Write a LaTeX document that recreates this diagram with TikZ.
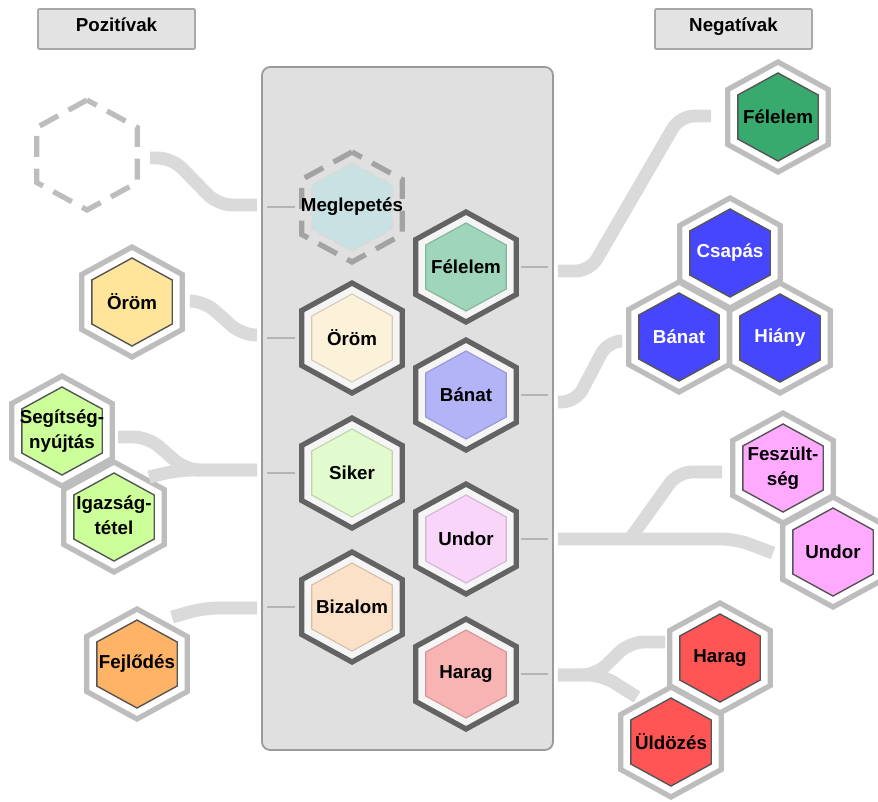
\documentclass[tikz,border=0pt]{standalone}
\usepackage{fontspec}
\setmainfont{Liberation Sans}
\usetikzlibrary{shapes.geometric,calc}

\definecolor{boxgray}{HTML}{E3E3E3}
\definecolor{boxline}{HTML}{A8A8A8}
\definecolor{panelgray}{HTML}{E0E0E0}
\definecolor{panelline}{HTML}{9A9A9A}
\definecolor{linkgray}{HTML}{DADADA}
\definecolor{stubgray}{HTML}{B4B4B4}
\definecolor{ringdark}{HTML}{636363}
\definecolor{ringlight}{HTML}{BDBDBD}
\definecolor{ringdash}{HTML}{A3A3A3}
\definecolor{coreline}{HTML}{555555}
% inside the panel
\definecolor{megC}{HTML}{C8E1E3}
\definecolor{felC}{HTML}{9FD5BB}
\definecolor{oromC}{HTML}{FCF1D9}
\definecolor{banC}{HTML}{B3B3F7}
\definecolor{sikC}{HTML}{E2FBCE}
\definecolor{undC}{HTML}{F9D5F9}
\definecolor{bizC}{HTML}{FBE1C8}
\definecolor{harC}{HTML}{F8B3B3}
% outside
\definecolor{felO}{HTML}{38AA6E}
\definecolor{blueO}{HTML}{4646FF}
\definecolor{pinkO}{HTML}{FFAAFF}
\definecolor{redO}{HTML}{FF5555}
\definecolor{oromO}{HTML}{FFE599}
\definecolor{greenO}{HTML}{CCFF99}
\definecolor{fejlO}{HTML}{FFB366}

% hexagons are stretched a little in x, the text is not
\newcommand{\hl}[1]{\makebox[0pt]{\scalebox{0.948}[1]{#1}}}
\newcommand{\hll}[2]{\makebox[0pt]{\scalebox{0.948}[1]{\begin{tabular}{@{}c@{}}#1\\#2\end{tabular}}}}

\tikzset{
  hexa/.style={regular polygon, regular polygon sides=6, shape border rotate=30,
    inner sep=0pt, outer sep=0pt, transform shape, xscale=1.055},
  ring/.style={hexa, minimum size=3.3cm, line width=4.5pt},
  pring/.style={ring, draw=ringdark, fill=white!96!black},
  oring/.style={ring, draw=ringlight, fill=white},
  core/.style={hexa, minimum size=2.64cm, font=\bfseries\fontsize{16}{21}\selectfont},
  pcore/.style={core, fill=#1, draw=#1!85!black, line width=1pt},
  ocore/.style={core, fill=#1, draw=coreline, line width=1.2pt},
  dashring/.style={ring, dash pattern=on 18pt off 10pt},
  headbox/.style={draw=boxline, fill=boxgray, line width=1.5pt, rounded corners=1pt,
    minimum width=4.71cm, minimum height=1.2cm, text height=12pt, text depth=8pt,
    font=\bfseries\fontsize{16}{19}\selectfont},
  panelbox/.style={draw=panelline, fill=panelgray, line width=1.5pt, rounded corners=7pt,
    minimum width=8.73cm, minimum height=20.49cm},
  link/.style={draw=linkgray, line width=11pt, rounded corners=12pt},
  stub/.style={draw=stubgray, line width=2.5pt}
}

\begin{document}
\begin{tikzpicture}[x=0.03cm, y=-0.03cm]
\useasboundingbox (0,0) rectangle (878,801);

% headers
\node[headbox] (hPoz) at (116.5,29) {Pozitívak};
\node[headbox] (hNeg) at (733.5,29) {Negatívak};

% panel
\node[panelbox] (panel) at (407.5,408.5) {};

% hexagons in the panel
\node[dashring, draw=ringdash] (pMeg) at (352,207) {};
\node[core, fill=megC, draw=black!15, line width=1.5pt, dash pattern=on 9pt off 5pt] (pMegIn) at (pMeg) {\hl{Meglepetés}};
\node[pring] (pFel) at (466,267) {};
\node[pcore=felC] (pFelIn) at (pFel) {\hl{Félelem}};
\node[pring] (pOrom) at (352,338) {};
\node[pcore=oromC] (pOromIn) at (pOrom) {\hl{Öröm}};
\node[pring] (pBan) at (466,395) {};
\node[pcore=banC] (pBanIn) at (pBan) {\hl{Bánat}};
\node[pring] (pSik) at (352,473) {};
\node[pcore=sikC] (pSikIn) at (pSik) {\hl{Siker}};
\node[pring] (pUnd) at (466,539) {};
\node[pcore=undC] (pUndIn) at (pUnd) {\hl{Undor}};
\node[pring] (pBiz) at (352,607) {};
\node[pcore=bizC] (pBizIn) at (pBiz) {\hl{Bizalom}};
\node[pring] (pHar) at (466,674) {};
\node[pcore=harC] (pHarIn) at (pHar) {\hl{Harag}};

\foreach \n in {pMeg,pOrom,pSik,pBiz}
  \draw[stub] ($(panel.west|-\n)+(6,0)$) -- ($(\n)+(-57,0)$);
\foreach \n in {pFel,pBan,pUnd,pHar}
  \draw[stub] ($(\n)+(55,0)$) -- ($(panel.east|-\n)+(-6,0)$);

% left side
\node[dashring, draw=ringlight] (oDash) at (87,155) {};
\node[oring] (oOrom) at (132,302) {};
\node[ocore=oromO] (oOromIn) at (oOrom) {\hl{Öröm}};
\node[oring] (oSeg) at (62,431) {};
\node[ocore=greenO] (oSegIn) at (oSeg) {\hll{Segítség-}{nyújtás}};
\node[oring] (oIgaz) at (114,517) {};
\node[ocore=greenO] (oIgazIn) at (oIgaz) {\hll{Igazság-}{tétel}};
\node[oring] (oFejl) at (137,664) {};
\node[ocore=fejlO] (oFejlIn) at (oFejl) {\hl{Fejlődés}};

% right side
\node[oring] (oFel) at (778,117) {};
\node[ocore=felO] (oFelIn) at (oFel) {\hl{Félelem}};
\node[oring] (oCsa) at (730,253) {};
\node[ocore=blueO, text=white] (oCsaIn) at (oCsa) {\hl{Csapás}};
\node[oring] (oBan) at (679,337) {};
\node[ocore=blueO, text=white] (oBanIn) at (oBan) {\hl{Bánat}};
\node[oring] (oHia) at (780,338) {};
\node[ocore=blueO, text=white] (oHiaIn) at (oHia) {\hl{Hiány}};
\node[oring] (oFesz) at (783,468) {};
\node[ocore=pinkO] (oFeszIn) at (oFesz) {\hll{Feszült-}{ség}};
\node[oring] (oUnd) at (833,552) {};
\node[ocore=pinkO] (oUndIn) at (oUnd) {\hl{Undor}};
\node[oring] (oHar) at (720,658) {};
\node[ocore=redO] (oHarIn) at (oHar) {\hl{Harag}};
\node[oring] (oUld) at (671,742) {};
\node[ocore=redO] (oUldIn) at (oUld) {\hl{Üldözés}};

% connectors, left
\draw[link] ($(oDash)+(63,3)$) -- ++(22,0) -- ++(46,47) -- ($(panel.west|-pMeg)+(-4,-2)$);
\draw[link] ($(oOrom)+(58,-1)$) -- ++(14,0) -- ++(38,34) -- ($(panel.west|-pOrom)+(-4,-3)$);
\draw[link] ($(oSeg)+(56,6)$) -- ++(30,0) -- ++(38,33) -- ($(panel.west|-pSik)+(-4,-3)$);
\draw[link] ($(oIgaz)+(35,-40)$) -- ++(30,-7) -- ($(panel.west|-pSik)+(-4,-3)$);
\draw[link] ($(oFejl)+(35,-47)$) -- ++(32,-9) -- ($(panel.west|-pBiz)+(-4,1)$);

% connectors, right
\draw[link] ($(panel.east|-pFel)+(4,4)$) -- ++(32,0) -- ++(90,-155) -- ($(oFel)+(-67,-1)$);
\draw[link] ($(panel.east|-pBan)+(4,7)$) -- ++(18,0) -- ++(32,-61) -- ($(oBan)+(-58,4)$);
\draw[link] ($(panel.east|-pUnd)+(4,0)$) -- ++(178,0) -- ($(oUnd)+(-60,1)$);
\draw[link] ($(panel.east|-pUnd)+(76,0)$) -- ++(48,-67) -- ($(oFesz)+(-61,4)$);
\draw[link] ($(panel.east|-pHar)+(4,1)$) -- ++(38,0) -- ++(34,-33) -- ($(oHar)+(-55,-16)$);
\draw[link] ($(panel.east|-pHar)+(4,1)$) -- ++(44,0) -- ($(oUld)+(-34,-45)$);
\end{tikzpicture}
\end{document}
